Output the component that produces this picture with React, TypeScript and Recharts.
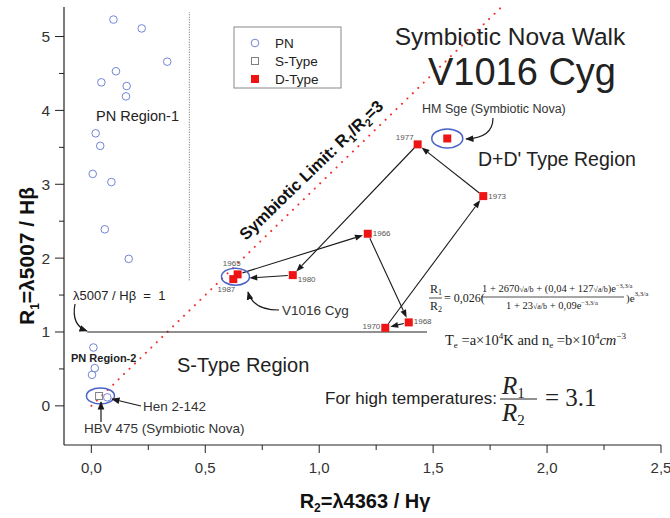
import React from 'react'
import { ScatterChart, Scatter, XAxis, YAxis, ReferenceLine, ReferenceDot } from 'recharts'

const W = 670
const H = 518
const SANS = "'Liberation Sans', Arial, sans-serif"
const SERIF = "'Liberation Serif', 'Times New Roman', serif"

// planetary nebulae (open circles)
const PN_R2 = [0.097, 0.221, 0.333, 0.108, 0.044, 0.155, 0.152, 0.019, 0.039, 0.006, 0.088, 0.059, 0.164, 0.009, 0.015, 0.003, 0.07]
const PN_R1 = [5.23, 5.11, 4.66, 4.53, 4.38, 4.33, 4.19, 3.69, 3.52, 3.14, 3.03, 2.39, 1.99, 0.79, 0.51, 0.42, 0.115]

// S-type symbiotics (HBV 475)
const S_TYPE_R2 = [0.034]
const S_TYPE_R1 = [0.133]

// V1016 Cyg walk, in time order
const WALK_YEARS = ['1965', '1966', '1968', '1970', '1973', '1977', '1980', '1987']
const WALK_R2 = [0.642, 1.213, 1.393, 1.29, 1.72, 1.432, 0.884, 0.623]
const WALK_R1 = [1.78, 2.33, 1.13, 1.057, 2.84, 3.54, 1.77, 1.716]

// HM Sge
const HM_SGE_R2 = [1.562]
const HM_SGE_R1 = [3.62]

const X_TICKS = [0, 0.25, 0.5, 0.75, 1, 1.25, 1.5, 1.75, 2, 2.25, 2.5]
const Y_TICKS = [0, 0.5, 1, 1.5, 2, 2.5, 3, 3.5, 4, 4.5, 5]

const LIMIT_RATIO = 3
const PN_SPLIT_R2 = 0.43
const PN_SPLIT_R1 = [1.7, 5.33]
const UNIT_LINE_R2 = [-0.018, 1.473]
const HBV_RING = { x: 0.04, y: 0.135 }

const pnData = PN_R2.map((x, i) => ({ x, y: PN_R1[i] }))
const sData = S_TYPE_R2.map((x, i) => ({ x, y: S_TYPE_R1[i] }))
const walkData = WALK_R2.map((x, i) => ({ x, y: WALK_R1[i], year: WALK_YEARS[i] }))
const hmData = HM_SGE_R2.map((x, i) => ({ x, y: HM_SGE_R1[i], year: '' }))

// where each year label sits relative to its square: dx, dy, anchor
const YEAR_LABEL: Record<string, [number, number, string]> = {
  '1965': [3, -8, 'end'],
  '1966': [5, 2, 'start'],
  '1968': [5, 2, 'start'],
  '1970': [-5, 1, 'end'],
  '1973': [5, 3, 'start'],
  '1977': [-4, -4, 'end'],
  '1980': [5, 7, 'start'],
  '1987': [2, 13, 'end'],
}

const isMajorX = (v: number) => Math.abs(v * 2 - Math.round(v * 2)) < 1e-6
const fmtX = (v: number) => v.toFixed(1).replace('.', ',')

function BottomTick({ x, y, payload }: any) {
  const major = isMajorX(payload.value)
  return (
    <g>
      <line x1={x} y1={y} x2={x} y2={y + (major ? 8 : 5)} stroke="#222" />
      {major && (
        <text x={x} y={y + 28} textAnchor="middle" fontSize={15} fill="#333" fontFamily={SANS}>
          {fmtX(payload.value)}
        </text>
      )}
    </g>
  )
}

function LeftTick({ x, y, payload }: any) {
  const major = Number.isInteger(payload.value)
  return (
    <g>
      <line x1={x - (major ? 9 : 5)} y1={y} x2={x} y2={y} stroke="#222" />
      {major && (
        <text x={x - 14} y={y + 5.5} textAnchor="end" fontSize={15.5} fill="#333" fontFamily={SANS}>
          {payload.value}
        </text>
      )}
    </g>
  )
}

const TopTick = ({ x, y }: any) => <line x1={x} y1={y} x2={x} y2={y + 8} stroke="#222" />
const RightTick = ({ x, y }: any) => <line x1={x - 8} y1={y} x2={x} y2={y} stroke="#222" />

const PnDot = ({ cx, cy }: any) => (
  <circle cx={cx} cy={cy} r={3.8} fill="none" stroke="#7286d6" strokeWidth={1} />
)
const STypeDot = ({ cx, cy }: any) => (
  <rect x={cx - 3.5} y={cy - 3.5} width={7} height={7} fill="none" stroke="#808080" />
)
const DTypeDot = ({ cx, cy, payload }: any) => {
  const lab = YEAR_LABEL[payload.year]
  return (
    <g>
      <rect x={cx - 4} y={cy - 4} width={8} height={8} fill="#ee1414" />
      {lab && (
        <text x={cx + lab[0]} y={cy + lab[1]} textAnchor={lab[2] as any} fontSize={8} fill="#555" fontFamily={SANS}>
          {payload.year}
        </text>
      )}
    </g>
  )
}

function Arrow({ x1, y1, x2, y2, gap = 5 }: any) {
  const dx = x2 - x1
  const dy = y2 - y1
  const len = Math.sqrt(dx * dx + dy * dy)
  const ux = dx / len
  const uy = dy / len
  const sx = x1 + ux * 5
  const sy = y1 + uy * 5
  const ex = x2 - ux * gap
  const ey = y2 - uy * gap
  const hl = 8
  const hw = 3
  const bx = ex - ux * hl
  const by = ey - uy * hl
  return (
    <g>
      <line x1={sx} y1={sy} x2={bx} y2={by} stroke="#1a1a1a" strokeWidth={1.1} />
      <polygon
        points={`${ex},${ey} ${bx - uy * hw},${by + ux * hw} ${bx + uy * hw},${by - ux * hw}`}
        fill="#1a1a1a"
      />
    </g>
  )
}

const Ring = (rx: number, ry: number) => ({ cx, cy }: any) => (
  <ellipse cx={cx} cy={cy} rx={rx} ry={ry} fill="none" stroke="#4a63c8" strokeWidth={1.5} />
)

function Overlay() {
  return (
    <svg
      width={W}
      height={H}
      style={{ position: 'absolute', left: 0, top: 0, pointerEvents: 'none' }}
      fontFamily={SANS}
    >
      <defs>
        <marker id="ah" viewBox="0 0 10 10" refX="9" refY="5" markerWidth="7" markerHeight="7" orient="auto">
          <path d="M0,1 L10,5 L0,9 z" fill="#1a1a1a" />
        </marker>
      </defs>

      {/* legend */}
      <rect x={234} y={27} width={107} height={61} fill="#fff" stroke="#888" />
      <circle cx={255} cy={43} r={3.8} fill="none" stroke="#7286d6" />
      <text x={275} y={48} fontSize={13.5} fill="#222">PN</text>
      <rect x={251.5} y={57.5} width={7} height={7} fill="none" stroke="#808080" />
      <text x={275} y={66} fontSize={13.5} fill="#222">S-Type</text>
      <rect x={251} y={75} width={8} height={8} fill="#ee1414" />
      <text x={275} y={84} fontSize={13.5} fill="#222">D-Type</text>

      {/* titles */}
      <text x={510} y={45} textAnchor="middle" fontSize={24.5} fill="#222">Symbiotic Nova Walk</text>
      <text x={522} y={85} textAnchor="middle" fontSize={38} fill="#222">V1016 Cyg</text>

      {/* regions */}
      <text x={96} y={121} fontSize={14.5} fill="#222">PN Region-1</text>
      <text x={71} y={362} fontSize={11} fontWeight="bold" fill="#222">PN Region-2</text>
      <text x={478} y={166} fontSize={19.5} fill="#222">D+D' Type Region</text>
      <text x={177} y={372} fontSize={20} fill="#222">S-Type Region</text>

      {/* symbiotic limit */}
      <text x={246} y={241} fontSize={16.5} fontWeight="bold" fill="#111" transform="rotate(-44 246 241)">
        Symbiotic Limit: R<tspan fontSize={11} dy={4}>1</tspan>
        <tspan dy={-4}>/R</tspan>
        <tspan fontSize={11} dy={4}>2</tspan>
        <tspan dy={-4}>=3</tspan>
      </text>

      {/* annotations */}
      <text x={422} y={113} fontSize={12.5} fill="#333">HM Sge (Symbiotic Nova)</text>
      <path d="M493,118 Q493,138 466,139" fill="none" stroke="#1a1a1a" strokeWidth={1.2} markerEnd="url(#ah)" />

      <text x={282} y={315} fontSize={13.5} fill="#333">V1016 Cyg</text>
      <path d="M279,310 Q253,310 248,292" fill="none" stroke="#1a1a1a" strokeWidth={1.2} markerEnd="url(#ah)" />

      <text x={73} y={300} fontSize={13} fill="#222" style={{ whiteSpace: 'pre' }}>
        λ5007 / Hβ  =  1
      </text>
      <path d="M75,304 Q71,325 87,331" fill="none" stroke="#1a1a1a" strokeWidth={1.2} markerEnd="url(#ah)" />

      <text x={143} y={411} fontSize={13.5} fill="#333">Hen 2-142</text>
      <line x1={141} y1={406} x2={112} y2={399} stroke="#1a1a1a" strokeWidth={1.2} markerEnd="url(#ah)" />

      <text x={84} y={433} fontSize={13.5} fill="#333">HBV 475 (Symbiotic Nova)</text>
      <line x1={101} y1={422} x2={101} y2={402} stroke="#1a1a1a" strokeWidth={1.2} markerEnd="url(#ah)" />

      {/* ratio formula */}
      <g fontFamily={SERIF} fill="#222">
        <text x={430} y={293} fontSize={12}>R<tspan fontSize={8} dy={2}>1</tspan></text>
        <line x1={429} y1={298} x2={442} y2={298} stroke="#222" strokeWidth={0.8} />
        <text x={430} y={310} fontSize={12}>R<tspan fontSize={8} dy={2}>2</tspan></text>
        <text x={444} y={302} fontSize={12}>= 0,026(</text>
        <text x={482} y={292} fontSize={10.5}>
          1 + 2670<tspan fontSize={8}>√a/b</tspan>
          <tspan> + (0,04 + 127</tspan>
          <tspan fontSize={8}>√a/b</tspan>
          <tspan>)e</tspan>
          <tspan fontSize={6.5} dy={-4}>−3,3/a</tspan>
        </text>
        <line x1={481} y1={297} x2={624} y2={297} stroke="#222" strokeWidth={0.8} />
        <text x={506} y={309} fontSize={10.5}>
          1 + 23<tspan fontSize={8}>√a/b</tspan>
          <tspan> + 0,09e</tspan>
          <tspan fontSize={6.5} dy={-4}>−3,3/a</tspan>
        </text>
        <text x={626} y={302} fontSize={11}>
          )e<tspan fontSize={7} dy={-6}>3,3/a</tspan>
        </text>

        <text x={445} y={345} fontSize={14.5}>
          T<tspan fontSize={9} dy={3}>e</tspan>
          <tspan dy={-3}> =a×10</tspan>
          <tspan fontSize={9} dy={-6}>4</tspan>
          <tspan dy={6}>K  and  n</tspan>
          <tspan fontSize={9} dy={3}>e</tspan>
          <tspan dy={-3}> =b×10</tspan>
          <tspan fontSize={9} dy={-6}>4</tspan>
          <tspan dy={6} fontStyle="italic">cm</tspan>
          <tspan fontSize={9} dy={-6}>−3</tspan>
        </text>
      </g>

      {/* high-temperature limit */}
      <text x={325} y={404} fontSize={17} fill="#222">For high temperatures:</text>
      <g fontFamily={SERIF} fill="#222">
        <text x={502} y={394} fontSize={25} fontStyle="italic">R<tspan fontSize={15} dy={4} fontStyle="normal">1</tspan></text>
        <line x1={500} y1={399} x2={537} y2={399} stroke="#222" strokeWidth={1} />
        <text x={502} y={421} fontSize={25} fontStyle="italic">R<tspan fontSize={15} dy={4} fontStyle="normal">2</tspan></text>
        <text x={545} y={406} fontSize={25}>=  3.1</text>
      </g>

      {/* axis titles */}
      <text x={365} y={508} textAnchor="middle" fontSize={20} fontWeight="bold" fill="#111">
        R<tspan fontSize={12} dy={4}>2</tspan>
        <tspan dy={-4}>=λ4363 / Hγ</tspan>
      </text>
      <text x={34} y={256} textAnchor="middle" fontSize={21} fontWeight="bold" fill="#111" transform="rotate(-90 34 256)">
        R<tspan fontSize={12} dy={5}>1</tspan>
        <tspan dy={-5}>=λ5007 / Hβ</tspan>
      </text>
    </svg>
  )
}

export default function App() {
  const last = WALK_R2.length - 2
  return (
    <div style={{ position: 'absolute', left: 0, top: 0, width: W, height: H, background: '#fff' }}>
      <ScatterChart width={W} height={H} margin={{ top: 7, right: 9, bottom: 0, left: 0 }}>
        <XAxis
          type="number"
          dataKey="x"
          domain={[-0.12, 2.5]}
          ticks={X_TICKS}
          interval={0}
          allowDataOverflow
          height={73}
          tickSize={0}
          tickMargin={0}
          tick={<BottomTick />}
          axisLine={{ stroke: '#222', strokeWidth: 1.2 }}
        />
        <XAxis
          xAxisId="top"
          orientation="top"
          type="number"
          dataKey="x"
          domain={[-0.12, 2.5]}
          ticks={X_TICKS}
          interval={0}
          allowDataOverflow
          height={0}
          tickSize={0}
          tickMargin={0}
          tick={<TopTick />}
          axisLine={{ stroke: '#222', strokeWidth: 1.2 }}
        />
        <YAxis
          type="number"
          dataKey="y"
          domain={[-0.53, 5.4]}
          ticks={Y_TICKS}
          interval={0}
          allowDataOverflow
          width={64}
          tickSize={0}
          tickMargin={0}
          tick={<LeftTick />}
          axisLine={{ stroke: '#222', strokeWidth: 1.2 }}
        />
        <YAxis
          yAxisId="right"
          orientation="right"
          type="number"
          dataKey="y"
          domain={[-0.53, 5.4]}
          ticks={Y_TICKS}
          interval={0}
          allowDataOverflow
          width={0}
          tickSize={0}
          tickMargin={0}
          tick={<RightTick />}
          axisLine={{ stroke: '#222', strokeWidth: 1.2 }}
        />

        <ReferenceLine
          segment={[{ x: 0, y: 0 }, { x: 1.85, y: 1.85 * LIMIT_RATIO }]}
          ifOverflow="hidden"
          stroke="#f23030"
          strokeWidth={2}
          strokeDasharray="0.1 7.5"
          strokeLinecap="round"
        />
        <ReferenceLine
          segment={[{ x: PN_SPLIT_R2, y: PN_SPLIT_R1[0] }, { x: PN_SPLIT_R2, y: PN_SPLIT_R1[1] }]}
          stroke="#666"
          strokeDasharray="1 1.5"
        />
        <ReferenceLine
          segment={[{ x: UNIT_LINE_R2[0], y: 1 }, { x: UNIT_LINE_R2[1], y: 1 }]}
          stroke="#222"
          strokeWidth={1.2}
        />

        {WALK_R2.slice(0, -1).map((x, i) => (
          <ReferenceLine
            key={WALK_YEARS[i]}
            segment={[{ x, y: WALK_R1[i] }, { x: WALK_R2[i + 1], y: WALK_R1[i + 1] }]}
            shape={(p: any) => <Arrow {...p} gap={i === last ? 16 : 5} />}
          />
        ))}

        <ReferenceDot
          x={(WALK_R2[0] + WALK_R2[WALK_R2.length - 1]) / 2}
          y={(WALK_R1[0] + WALK_R1[WALK_R1.length - 1]) / 2}
          r={10}
          shape={Ring(14, 8.5)}
        />
        <ReferenceDot x={HM_SGE_R2[0]} y={HM_SGE_R1[0]} r={10} shape={Ring(15.5, 9.5)} />
        <ReferenceDot x={HBV_RING.x} y={HBV_RING.y} r={10} shape={Ring(14, 8)} />

        <Scatter data={pnData} shape={PnDot} isAnimationActive={false} />
        <Scatter data={sData} shape={STypeDot} isAnimationActive={false} />
        <Scatter data={walkData} shape={DTypeDot} isAnimationActive={false} />
        <Scatter data={hmData} shape={DTypeDot} isAnimationActive={false} />
      </ScatterChart>
      <Overlay />
    </div>
  )
}
